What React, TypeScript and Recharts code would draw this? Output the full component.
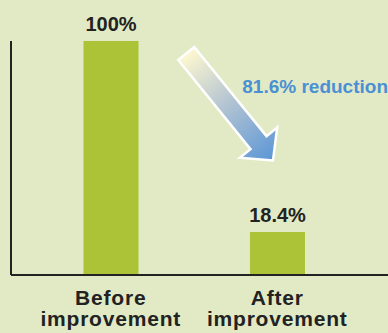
import { BarChart, Bar, XAxis, YAxis, LabelList } from 'recharts';

const categories = ['Before improvement', 'After improvement'];
const ratios = [100, 18.4];

const data = categories.map((name, i) => ({ name, ratio: ratios[i] }));

const BG = '#e1eac4';
const BAR = '#adc337';
const INK = '#222222';

/** 2줄로 나눈 카테고리 라벨 */
function CategoryTick({ x, y, payload }: any) {
  const lines = String(payload.value).split(' ');
  return (
    <text
      x={x}
      y={y}
      textAnchor="middle"
      fill={INK}
      fontSize={21}
      fontWeight="bold"
      letterSpacing={0.8}
      fontFamily="'Liberation Sans', Arial, sans-serif"
    >
      {lines.map((line, i) => (
        <tspan key={line} x={x} dy={i === 0 ? 22 : 21}>
          {line}
        </tspan>
      ))}
    </text>
  );
}

/** 감소 화살표 (꼬리 중심 → 끝점 방향) */
function ReductionArrow() {
  const tail = { x: 185.5, y: 52.5 };
  const tip = { x: 275, y: 163 };
  const angle = (Math.atan2(tip.y - tail.y, tip.x - tail.x) * 180) / Math.PI;
  const reduction = (ratios[0] - ratios[1]).toFixed(1);
  const shape = '1.2,-10.3 116,-10.3 116,-24 139,0 116,24 116,10.3 1.2,10.3';

  return (
    <svg
      width={388}
      height={333}
      style={{ position: 'absolute', left: 0, top: 0, pointerEvents: 'none' }}
    >
      <defs>
        <linearGradient id="arrowFill" x1="0" y1="0" x2="139" y2="0" gradientUnits="userSpaceOnUse">
          <stop offset="0%" stopColor="#fff9d0" />
          <stop offset="45%" stopColor="#b7c6d2" />
          <stop offset="100%" stopColor="#5b96d6" />
        </linearGradient>
      </defs>
      <g transform={`translate(${tail.x},${tail.y}) rotate(${angle})`}>
        <polygon points={shape} fill="url(#arrowFill)" stroke="#ffffff" strokeWidth={2.5} />
      </g>
      <text
        x={242.3}
        y={93}
        fill="#4b8fd4"
        fontSize={19}
        fontWeight="bold"
        fontFamily="'Liberation Sans', Arial, sans-serif"
      >
        {`${reduction}% reduction`}
      </text>
    </svg>
  );
}

export default function App() {
  return (
    <div style={{ position: 'relative', width: 388, height: 333, background: BG, overflow: 'hidden' }}>
      <style>{'body{margin:0}'}</style>
      <BarChart
        width={388}
        height={333}
        data={data}
        margin={{ top: 41, right: 0, bottom: 0, left: 10 }}
      >
        <XAxis
          dataKey="name"
          height={58}
          padding={{ left: 16.5, right: 27.5 }}
          tickLine={false}
          axisLine={{ stroke: INK, strokeWidth: 2 }}
          tick={<CategoryTick />}
          interval={0}
        />
        <YAxis
          width={1}
          domain={[0, 100]}
          tick={false}
          tickLine={false}
          axisLine={{ stroke: INK, strokeWidth: 2 }}
        />
        <Bar dataKey="ratio" fill={BAR} barSize={55} isAnimationActive={false}>
          <LabelList
            dataKey="ratio"
            position="top"
            offset={10}
            formatter={(v: any) => `${v}%`}
            fill={INK}
            fontSize={20}
            fontWeight="bold"
            fontFamily="'Liberation Sans', Arial, sans-serif"
          />
        </Bar>
      </BarChart>
      <ReductionArrow />
    </div>
  );
}
